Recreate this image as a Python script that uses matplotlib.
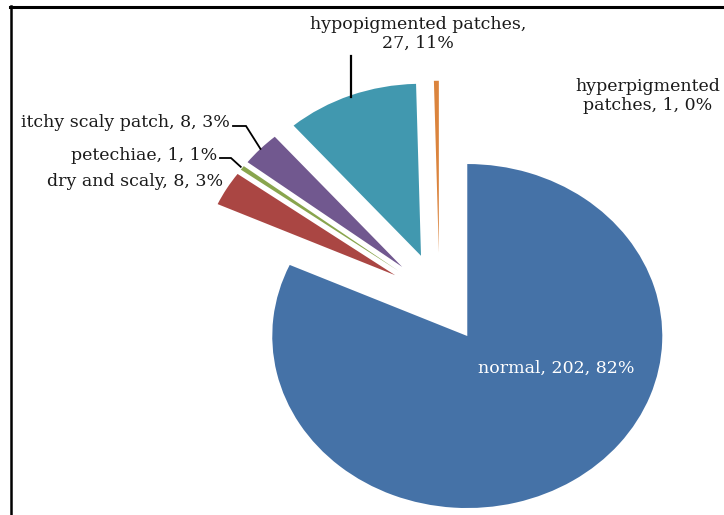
import matplotlib
matplotlib.use("Agg")
import matplotlib.pyplot as plt
import numpy as np
from matplotlib.lines import Line2D

categories = ["normal", "dry and scaly", "petechiae", "itchy scaly patch",
              "hypopigmented patches", "hyperpigmented patches"]
counts = [202, 8, 1, 8, 27, 1]
percent_labels = ["82%", "3%", "1%", "3%", "11%", "0%"]
colors = ["#4572A7", "#AA4643", "#89A54E", "#71588F", "#4198AF", "#DB843D"]

W, H = 724, 515
fig = plt.figure(figsize=(W / 100, H / 100), dpi=100)
ax = fig.add_axes([0, 0, 1, 1])

wedges, _ = ax.pie(counts, colors=colors, startangle=90, counterclock=False,
                   explode=[0.263] * len(counts), radius=1.0,
                   wedgeprops=dict(linewidth=0))

# elliptical look of the original (pie drawn wider than tall)
cx_px, cy_px = 439.5, 298.0
sx, sy = 195.0, 172.0
ax.set_aspect("auto")
ax.set_xlim(-cx_px / sx, (W - cx_px) / sx)
ax.set_ylim(-(H - cy_px) / sy, cy_px / sy)
ax.axis("off")


def fig_frac(X, Y):
    return (X / W, 1 - Y / H)


def arc_mid(w, frac=1.0):
    th = np.deg2rad((w.theta1 + w.theta2) / 2)
    return (w.center[0] + frac * w.r * np.cos(th), w.center[1] + frac * w.r * np.sin(th))


def data_to_frac(pt):
    d = ax.transData.transform(pt)
    return fig.transFigure.inverted().transform(d)


def leader(points_frac, lw=1.3):
    xs = [p[0] for p in points_frac]
    ys = [p[1] for p in points_frac]
    fig.add_artist(Line2D(xs, ys, transform=fig.transFigure, color="black",
                          lw=lw, solid_joinstyle="miter"))


font = dict(family="DejaVu Serif", fontsize=12.5, color="#1a1a1a")

lab = [f"{c}, {n}, {p}" for c, n, p in zip(categories, counts, percent_labels)]

# normal (inside, white)
fig.text(*fig_frac(556, 368), lab[0], ha="center", va="center",
         **{**font, "color": "white"})

# dry and scaly (no leader)
fig.text(*fig_frac(223, 182), lab[1], ha="right", va="center", **font)

# petechiae
fig.text(*fig_frac(217, 156), lab[2], ha="right", va="center", **font)
leader([fig_frac(220, 158), fig_frac(231, 158), data_to_frac(arc_mid(wedges[2], 1.01))])

# itchy scaly patch
fig.text(*fig_frac(230, 123), lab[3], ha="right", va="center", **font)
leader([fig_frac(233, 126), fig_frac(246, 126), data_to_frac(arc_mid(wedges[3], 1.0))])

# hypopigmented patches
fig.text(*fig_frac(418, 34), "hypopigmented patches,\n" + f"{counts[4]}, {percent_labels[4]}",
         ha="center", va="center", linespacing=1.1, **font)
hx, hy = data_to_frac(arc_mid(wedges[4], 0.99))
leader([(hx, 1 - 56 / H), (hx, hy)], lw=1.6)

# hyperpigmented patches
fig.text(*fig_frac(648, 96), "hyperpigmented\n" + f"patches, {counts[5]}, {percent_labels[5]}",
         ha="center", va="center", linespacing=1.1, **font)

# partial frame (top and left)
fig.add_artist(Line2D([10 / W, 1], [1 - 7 / H, 1 - 7 / H], transform=fig.transFigure,
                      color="black", lw=2.2))
fig.add_artist(Line2D([11 / W, 11 / W], [0, 1 - 6 / H], transform=fig.transFigure,
                      color="black", lw=1.8))

fig.savefig("out.png", dpi=100)
